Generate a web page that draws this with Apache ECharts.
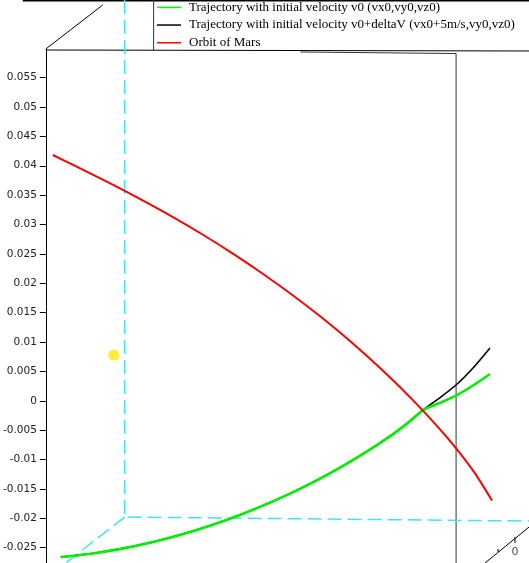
<!DOCTYPE html>
<html>
<head>
<meta charset="utf-8">
<script src="https://cdn.jsdelivr.net/npm/echarts@6/dist/echarts.min.js"></script>
<style>
  html, body { margin: 0; padding: 0; background: #fff; }
  #chart { width: 529px; height: 563px; }
</style>
</head>
<body>
<div id="chart"></div>
<script>
// Vertical axis (AU) range and tick labels
const yMin = -0.0276;
const yMax = 0.0597;
const yTicks = [-0.025, -0.02, -0.015, -0.01, -0.005, 0, 0.005, 0.01, 0.015, 0.02, 0.025, 0.03, 0.035, 0.04, 0.045, 0.05, 0.055];

// Horizontal coordinate of the projected 3D view (AU); the value axis sits at xAxisAt
const xMin = -0.01736;
const xMax = 0.06893;
const xAxisAt = -0.01344;

// Orbit of Mars
const marsX = [-0.01225, -0.00715, -0.00204, 0.00306, 0.00817, 0.01327, 0.01838, 0.02348, 0.02859, 0.03370, 0.03880, 0.04391, 0.04901, 0.05327, 0.05667, 0.05973, 0.06263];
const marsY = [0.04183, 0.03933, 0.03678, 0.03412, 0.03131, 0.02830, 0.02509, 0.02167, 0.01801, 0.01408, 0.00984, 0.00524, 0.00024, -0.00432, -0.00830, -0.01235, -0.01698];

// Transfer arc common to both trajectories (up to the manoeuvre point)
const transferX = [-0.01089, -0.00579, -0.00068, 0.00442, 0.00953, 0.01464, 0.01974, 0.02485, 0.02995, 0.03506, 0.04016, 0.04527, 0.04833, 0.05088];
const transferY = [-0.02658, -0.02602, -0.02520, -0.02413, -0.02280, -0.02122, -0.01938, -0.01729, -0.01494, -0.01229, -0.00933, -0.00601, -0.00371, -0.00157];

// Continuation with initial velocity v0
const v0X = [0.05378, 0.05650, 0.05939, 0.06229];
const v0Y = [-0.00034, 0.00090, 0.00261, 0.00456];

// Continuation with v0 + deltaV
const dvX = [0.05378, 0.05650, 0.05939, 0.06229];
const dvY = [0.00056, 0.00269, 0.00558, 0.00899];

// Sun marker
const sunX = [-0.00187];
const sunY = [0.00779];

// Frame of the 3D plot box
const borderX = [-0.01736, 0.06893];
const borderY = [0.06807, 0.06807];
const legendRuleX = [0.00494, 0.00494];
const legendRuleY = [0.06821, 0.0597];
const boxTopX = [-0.01344, 0.06893];
const boxTopY = [0.0597, 0.05953];
const boxSlantX = [-0.01344, -0.00374];
const boxSlantY = [0.05987, 0.06736];
const boxBackX = [0.02995, 0.0565, 0.0565];
const boxBackY = [0.05936, 0.0591, -0.0276];

// Dashed coordinate axes through the origin corner
const axisUpX = [0, 0, 0.06893];
const axisUpY = [0.06821, -0.01978, -0.02046];
const axisDepthX = [0, -0.01004];
const axisDepthY = [-0.01978, -0.0276];

// Depth axis on the right with its tick and label
const depthAxisX = [0.06144, 0.06893];
const depthAxisY = [-0.0276, -0.02148];
const depthTickX = [0.06654, 0.06654];
const depthTickY = [-0.02318, -0.0242];
const depthMinorX = [0.06365, 0.06365];
const depthMinorY = [-0.02522, -0.02573];
const depthLabelX = [0.06654];
const depthLabelY = [-0.02573];
const depthLabels = ['0'];

const zip = (xs, ys) => xs.map((x, i) => [x, ys[i]]);

const frameLine = (xs, ys, color, width, type) => ({
  type: 'line',
  data: zip(xs, ys),
  symbol: 'none',
  silent: true,
  clip: false,
  z: 1,
  lineStyle: { color: color, width: width, type: type || 'solid' },
  animation: false
});

const cyan = '#3ee6ee';

const chartEl = document.getElementById('chart');
const chart = echarts.init(chartEl, null, { renderer: 'canvas' });

// grid spans the whole frame; the vertical axis is shifted onto the box edge
const gridLeft = 22;
const pxPerX = (chartEl.clientWidth - gridLeft) / (xMax - xMin);
const yAxisShift = -(xAxisAt - xMin) * pxPerX;

chart.setOption({
  animation: false,
  backgroundColor: '#ffffff',
  grid: { left: gridLeft, top: 50, right: 0, bottom: 0, containLabel: false },
  legend: {
    data: [
      'Trajectory with initial velocity v0 (vx0,vy0,vz0)',
      'Trajectory with initial velocity v0+deltaV (vx0+5m/s,vy0,vz0)',
      'Orbit of Mars'
    ],
    orient: 'vertical',
    left: 157,
    top: -1.5,
    padding: 0,
    itemGap: 0,
    itemWidth: 24,
    itemHeight: 1.5,
    icon: 'rect',
    selectedMode: false,
    textStyle: {
      fontFamily: 'Liberation Serif',
      fontSize: 13,
      color: '#000',
      lineHeight: 17.7,
      padding: [0, 0, 0, 3]
    }
  },
  xAxis: {
    type: 'value',
    min: xMin,
    max: xMax,
    show: false
  },
  yAxis: {
    type: 'value',
    min: yMin,
    max: yMax,
    offset: yAxisShift,
    axisLine: { show: true, onZero: false, lineStyle: { color: '#000', width: 1 } },
    axisTick: { show: true, length: 6, customValues: yTicks, lineStyle: { color: '#000' } },
    splitLine: { show: false },
    axisLabel: {
      customValues: yTicks,
      margin: 9,
      fontFamily: 'DejaVu Sans',
      fontSize: 10.5,
      color: '#222',
      formatter: v => String(+(+v).toFixed(3))
    }
  },
  series: [
    frameLine(borderX, borderY, '#000', 1.5),
    frameLine(legendRuleX, legendRuleY, '#333', 1),
    frameLine(boxTopX, boxTopY, '#000', 1),
    frameLine(boxSlantX, boxSlantY, '#000', 1),
    frameLine(boxBackX, boxBackY, '#333', 1),
    frameLine(axisUpX, axisUpY, cyan, 1.5, [14, 6]),
    frameLine(axisDepthX, axisDepthY, cyan, 1.5, [14, 6]),
    frameLine(depthAxisX, depthAxisY, '#000', 1),
    frameLine(depthTickX, depthTickY, '#000', 1),
    frameLine(depthMinorX, depthMinorY, '#000', 1),
    {
      type: 'scatter',
      data: zip(depthLabelX, depthLabelY),
      symbolSize: 0,
      silent: true,
      label: {
        show: true,
        position: 'inside',
        formatter: p => depthLabels[p.dataIndex],
        fontFamily: 'DejaVu Sans',
        fontSize: 11,
        color: '#222'
      }
    },
    {
      name: 'Trajectory with initial velocity v0+deltaV (vx0+5m/s,vy0,vz0)',
      type: 'line',
      data: zip(transferX.concat(dvX), transferY.concat(dvY)),
      symbol: 'none',
      smooth: 0.2,
      z: 3,
      itemStyle: { color: '#000' },
      lineStyle: { color: '#000', width: 1.6 }
    },
    {
      name: 'Trajectory with initial velocity v0 (vx0,vy0,vz0)',
      type: 'line',
      data: zip(transferX.concat(v0X), transferY.concat(v0Y)),
      symbol: 'none',
      smooth: 0.2,
      z: 4,
      itemStyle: { color: '#00ff00' },
      lineStyle: { color: '#00ee00', width: 2.6 }
    },
    {
      name: 'Orbit of Mars',
      type: 'line',
      data: zip(marsX, marsY),
      symbol: 'none',
      smooth: 0.2,
      z: 5,
      itemStyle: { color: '#ff0000' },
      lineStyle: { color: '#ff0000', width: 2 }
    },
    {
      name: 'Sun',
      type: 'scatter',
      data: zip(sunX, sunY),
      symbolSize: 11,
      z: 6,
      itemStyle: { color: '#ffe800' }
    }
  ]
});
</script>
</body>
</html>
